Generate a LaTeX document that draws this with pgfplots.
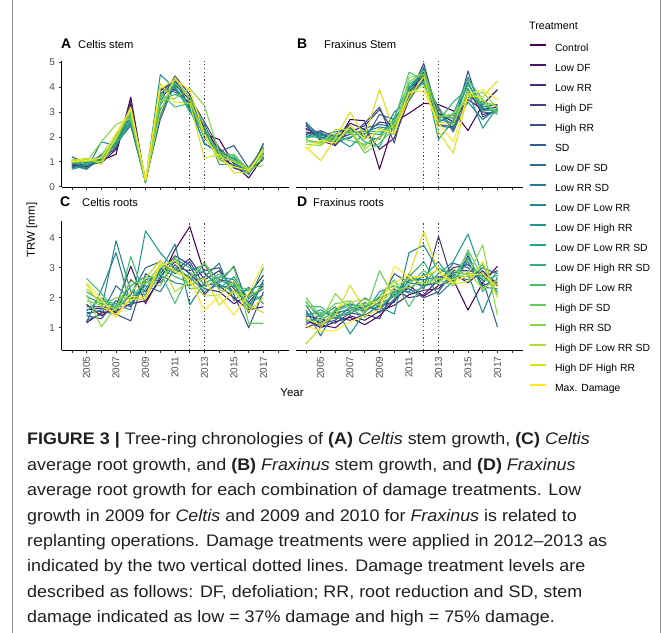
\documentclass[border=0pt]{standalone}
\usepackage{pgfplots}
\pgfplotsset{compat=1.18}
\usepackage{pgfplotstable}
\usepackage{fontspec}
\setmainfont{Liberation Sans}
\newfontfamily\capfont{Liberation Sans}[FakeStretch=1.07]

% viridis, 18 steps
\definecolor{v1}{HTML}{440154}\definecolor{v2}{HTML}{481769}\definecolor{v3}{HTML}{472A7A}
\definecolor{v4}{HTML}{433D84}\definecolor{v5}{HTML}{3D4E8A}\definecolor{v6}{HTML}{355E8D}
\definecolor{v7}{HTML}{2E6D8E}\definecolor{v8}{HTML}{297B8E}\definecolor{v9}{HTML}{23898E}
\definecolor{v10}{HTML}{1F978B}\definecolor{v11}{HTML}{21A585}\definecolor{v12}{HTML}{2EB37C}
\definecolor{v13}{HTML}{46C06F}\definecolor{v14}{HTML}{65CB5E}\definecolor{v15}{HTML}{89D548}
\definecolor{v16}{HTML}{B0DD2F}\definecolor{v17}{HTML}{D8E219}\definecolor{v18}{HTML}{FDE725}
\definecolor{tickgrey}{HTML}{4D4D4D}

% A: Celtis stem
\pgfplotstableread{
year c1 c2 c3 c4 c5 c6 c7 c8 c9 c10 c11 c12 c13 c14 c15 c16 c17 c18
2004 0.85 1.05 0.80 0.95 1.20 0.90 0.75 1.00 0.85 0.70 0.95 1.05 1.00 0.95 1.10 1.00 1.05 1.00
2005 0.80 0.90 0.95 0.70 0.95 0.85 0.90 0.75 0.70 0.85 0.95 1.00 0.90 1.05 1.00 1.10 1.15 1.05
2006 1.05 0.95 1.10 1.20 1.00 1.30 0.95 1.10 1.80 1.15 1.05 1.00 1.25 1.20 1.80 1.00 0.90 1.15
2007 1.30 1.50 1.55 1.70 1.85 1.60 1.75 1.90 1.65 1.80 2.00 1.70 2.10 1.85 2.50 2.00 1.95 2.15
2008 3.60 3.30 3.45 3.20 2.60 2.95 2.45 2.80 2.55 2.70 2.90 2.65 2.85 3.00 2.75 3.10 3.20 3.10
2009 0.15 0.20 0.18 0.22 0.25 0.20 0.17 0.23 0.19 0.21 0.24 0.18 0.20 0.22 0.26 0.20 0.30 0.25
2010 3.75 3.60 3.85 3.40 2.70 3.95 3.10 3.70 2.85 4.50 3.30 3.55 3.75 3.60 3.45 3.00 4.15 3.95
2011 3.90 4.10 4.30 4.45 4.20 3.80 4.00 4.35 4.25 3.95 4.05 3.70 3.20 4.15 3.55 4.40 3.40 4.30
2012 3.30 3.50 3.20 3.70 3.60 3.40 3.25 3.55 3.15 3.10 3.00 3.45 3.35 3.60 3.95 3.50 3.35 3.90
2013 2.10 2.40 2.50 2.30 2.60 1.95 1.70 2.20 2.05 1.75 2.35 2.00 2.15 2.45 3.25 2.00 1.15 2.10
2014 1.90 1.45 1.20 1.35 1.55 1.40 1.50 1.25 1.10 1.30 0.90 1.20 1.40 1.15 1.35 1.20 1.30 1.05
2015 0.90 0.75 0.85 1.05 1.00 1.65 0.95 1.15 0.80 1.10 0.90 1.20 1.25 1.30 1.05 1.00 0.55 0.80
2016 0.35 0.55 0.60 0.65 0.50 0.75 0.60 0.70 0.55 0.65 0.50 0.60 0.70 0.65 0.75 0.70 0.60 0.65
2017 1.20 1.35 1.10 1.55 1.75 1.60 1.45 1.25 1.70 1.35 1.50 1.15 1.30 1.40 0.85 1.25 1.55 1.45
}\tabA

% B: Fraxinus stem
\pgfplotstableread{
year c1 c2 c3 c4 c5 c6 c7 c8 c9 c10 c11 c12 c13 c14 c15 c16 c17 c18
2004 2.35 2.20 2.50 2.10 2.30 2.45 2.00 2.55 2.60 2.15 1.95 2.05 1.80 1.90 1.70 1.85 1.60 1.50
2005 2.00 2.10 1.85 2.25 2.15 1.95 2.20 2.05 1.90 2.00 2.10 1.95 1.80 1.75 1.65 1.70 1.05 1.85
2006 1.70 1.85 1.65 2.00 1.90 2.10 1.80 2.20 2.05 1.95 1.75 1.85 2.00 1.90 2.10 2.30 1.95 1.75
2007 2.70 2.55 2.30 2.20 2.10 2.45 1.95 2.35 2.20 1.60 2.40 2.00 1.85 2.25 2.15 2.30 3.00 2.45
2008 2.65 2.30 2.10 2.45 2.55 1.90 2.35 2.00 2.20 2.15 1.80 2.25 1.70 1.35 1.60 1.50 2.00 1.90
2009 0.70 1.50 2.60 3.10 3.20 2.90 2.50 1.90 2.40 2.10 1.60 2.20 2.00 1.75 2.35 1.95 3.90 2.30
2010 2.60 1.95 2.50 2.20 1.75 2.70 2.40 3.00 2.30 2.55 2.80 2.45 2.65 2.35 2.10 2.50 2.20 2.15
2011 2.95 3.50 3.80 3.65 4.00 3.60 3.90 3.45 3.70 3.85 4.10 3.95 4.60 4.20 4.40 3.75 3.55 3.80
2012 3.35 4.70 4.50 4.95 4.40 4.25 4.60 4.35 4.80 4.15 4.55 4.70 4.30 4.65 4.50 4.05 4.45 3.85
2013 3.30 2.95 3.10 2.80 2.50 3.20 2.70 2.45 2.60 2.90 1.90 2.65 2.85 3.05 2.75 2.60 2.20 2.55
2014 3.05 2.60 2.30 2.75 2.40 2.20 2.55 2.35 2.90 2.45 2.65 3.40 2.85 2.70 2.95 2.50 1.35 1.80
2015 2.25 3.50 3.90 3.70 4.65 3.60 4.20 3.40 4.40 3.80 4.10 3.95 4.30 3.75 3.55 3.85 3.65 3.70
2016 3.30 3.10 2.90 3.20 2.80 3.40 3.00 2.70 3.15 2.35 3.25 3.05 3.50 3.35 3.80 3.45 3.60 3.90
2017 3.90 3.20 3.05 3.30 3.10 3.25 2.95 3.15 3.00 3.20 3.05 3.10 2.90 3.00 3.15 3.20 4.25 3.50
}\tabB

% C: Celtis roots
\pgfplotstableread{
year c1 c2 c3 c4 c5 c6 c7 c8 c9 c10 c11 c12 c13 c14 c15 c16 c17 c18
2005 1.17 1.78 1.60 1.40 1.50 1.70 1.25 1.20 1.45 2.05 1.55 2.20 2.64 1.90 2.10 2.30 2.45 2.50
2006 1.50 1.40 1.65 1.30 1.55 1.70 1.45 2.25 1.60 1.80 2.00 1.90 2.15 1.75 1.03 1.85 1.70 1.95
2007 1.55 1.70 1.50 1.90 1.45 1.60 2.40 3.50 3.90 1.75 1.65 1.80 1.55 2.00 1.70 1.60 1.45 1.34
2008 1.80 3.05 2.60 1.70 1.23 2.10 1.95 1.75 2.20 1.60 2.40 1.85 3.37 2.00 2.55 2.20 1.95 2.05
2009 1.90 1.80 2.20 2.50 2.80 3.00 2.40 2.60 2.10 4.23 2.70 2.30 2.00 2.55 2.45 2.65 1.95 2.00
2010 2.60 2.70 2.95 2.80 2.50 3.20 2.20 2.75 2.90 3.50 2.65 3.00 2.85 2.40 3.10 3.25 3.05 3.20
2011 3.60 3.20 2.90 3.40 3.10 2.80 3.00 2.50 3.79 2.95 3.30 2.70 1.81 3.35 2.85 2.20 3.25 2.90
2012 4.37 2.80 3.30 3.10 2.60 3.20 2.90 2.40 1.76 2.70 3.00 2.50 2.85 2.30 2.65 2.55 2.45 2.60
2013 2.80 2.30 2.60 2.10 2.90 2.40 3.10 2.70 2.50 2.20 2.85 3.15 2.45 2.35 3.20 2.05 2.65 1.59
2014 2.40 2.20 2.90 2.60 3.00 2.50 2.35 3.15 2.70 2.45 2.30 2.55 2.80 2.65 2.25 2.10 1.75 2.05
2015 2.00 1.80 2.30 2.50 2.10 3.05 2.40 1.90 2.60 2.20 2.70 2.45 2.35 3.00 2.15 2.55 2.25 1.42
2016 1.60 2.10 1.85 1.50 1.00 1.70 2.00 2.35 1.80 2.25 1.95 1.65 2.30 1.15 2.05 1.75 1.55 2.15
2017 1.70 2.75 2.40 2.60 2.20 2.50 2.30 1.80 2.10 2.45 3.00 2.60 1.80 1.15 2.35 1.50 2.00 3.14
}\tabC

% D: Fraxinus roots
\pgfplotstableread{
year c1 c2 c3 c4 c5 c6 c7 c8 c9 c10 c11 c12 c13 c14 c15 c16 c17 c18
2004 1.30 1.20 1.00 1.40 1.10 1.50 1.75 1.60 1.35 1.85 1.45 1.25 1.70 2.00 1.90 0.46 1.30 1.05
2005 1.00 1.10 1.20 1.30 1.45 1.15 1.05 0.73 1.60 1.35 1.50 1.25 1.70 1.40 1.20 1.00 1.10 0.90
2006 1.20 1.00 1.35 1.15 1.50 1.25 1.40 1.60 1.30 1.70 1.45 1.55 1.35 1.80 2.14 1.65 1.40 0.90
2007 1.35 1.40 1.25 1.50 1.60 1.70 1.45 1.80 1.55 0.79 1.65 1.75 1.50 1.90 1.60 1.85 2.42 1.20
2008 1.10 1.25 1.45 1.40 1.70 1.55 1.85 1.60 2.00 1.50 1.35 1.75 1.65 1.45 1.80 1.95 1.60 1.40
2009 1.40 1.55 1.30 1.75 1.60 1.85 1.50 2.00 1.70 2.20 1.80 1.65 2.05 2.90 1.90 1.75 1.95 1.60
2010 1.90 1.75 2.30 1.85 2.10 2.80 1.95 2.20 1.46 2.40 2.05 2.15 2.60 2.00 2.25 2.35 2.50 3.05
2011 2.40 2.10 2.00 2.80 2.30 2.50 2.60 2.20 3.50 2.15 2.55 2.70 1.70 2.45 2.35 2.65 2.75 2.70
2012 2.05 2.25 2.10 2.30 2.00 2.40 2.60 2.80 3.75 2.35 2.70 3.20 2.50 2.90 2.55 2.45 4.20 2.70
2013 2.40 2.30 2.60 4.05 2.20 2.50 2.70 2.10 2.90 2.80 3.20 2.40 3.00 2.60 2.50 2.65 2.85 2.95
2014 2.60 2.80 3.00 2.45 2.90 3.15 2.70 2.55 2.85 3.20 2.50 2.65 2.75 2.40 2.95 2.60 2.45 2.50
2015 1.59 2.50 3.10 3.40 2.90 3.00 2.60 3.20 2.80 4.12 3.30 3.50 2.70 3.60 2.75 2.85 2.55 2.75
2016 2.50 2.90 2.70 2.40 2.80 2.60 3.00 2.35 1.50 2.75 2.55 2.20 3.10 2.65 3.76 2.30 3.20 2.80
2017 3.05 2.40 2.90 2.60 2.50 1.03 2.80 2.30 2.70 2.20 2.75 2.90 2.10 2.45 1.41 2.60 2.00 2.35
}\tabD

\tikzset{dotl/.style={line width=1.2bp, dash pattern=on 1.2bp off 2.6bp, black!75}}

\pgfplotsset{
  panel/.style={
    scale only axis, width=227bp,
    xmin=2003.3, xmax=2018.7,
    xtick={2004,...,2018},
    axis x line*=bottom,
    axis line style={line width=0.6bp, black},
    tick align=outside, major tick length=3bp,
    tick style={line width=0.6bp, black!80},
    tick label style={font=\fontsize{10}{11}\selectfont, text=tickgrey},
    every axis plot/.append style={line width=1.05bp, line join=round, no markers},
    clip=false,
  },
  toprow/.style={height=126bp, ymin=-0.012, ymax=5.05, xticklabels={}},
  botrow/.style={height=128.5bp, ymin=0.26, ymax=4.54,
    xticklabels={,2005,,2007,,2009,,2011,,2013,,2015,,2017,},
    xticklabel style={rotate=90, anchor=east}},
  withy/.style={axis y line*=left},
  noy/.style={axis y line=none},
}

\begin{document}
\begin{tikzpicture}[x=1bp, y=1bp]
\useasboundingbox (0,0) rectangle (663,633);

% A
\begin{axis}[panel, toprow, withy, at={(61.5bp,446bp)}, anchor=south west,
  ytick={0,...,5}, yticklabels={0,1,2,3,4,5}]
  \pgfplotsinvokeforeach{1,...,18}{\addplot[color=v#1] table[x=year, y=c#1]{\tabA};}
  \draw[dotl] (2012,-0.012) -- (2012,5.05);
  \draw[dotl] (2013,-0.012) -- (2013,5.05);
\end{axis}

% B (carries the legend)
\begin{axis}[panel, toprow, noy, at={(295.5bp,446bp)}, anchor=south west,
  legend style={at={(1.0286,1.13492)}, anchor=north west, draw=none, fill=none,
    inner sep=0pt, outer sep=0pt, row sep=10bp, column sep=8bp,
    font=\fontsize{10.4}{12}\selectfont,
    nodes={inner sep=0pt, outer sep=0pt, text height=8bp, text depth=2bp}},
  legend cell align=left,
  legend image code/.code={\draw[#1, line width=2bp] (0bp,4bp) -- (16bp,4bp);}]
  \pgfplotsinvokeforeach{1,...,18}{\addplot[color=v#1] table[x=year, y=c#1]{\tabB};}
  \draw[dotl] (2012,-0.012) -- (2012,5.05);
  \draw[dotl] (2013,-0.012) -- (2013,5.05);
  \legend{Control,Low DF,Low RR,High DF,High RR,SD,Low DF SD,Low RR SD,Low DF Low RR,Low DF High RR,Low DF Low RR SD,Low DF High RR SD,High DF Low RR,High DF SD,High RR SD,High DF Low RR SD,High DF High RR,Max. Damage}
\end{axis}

% C
\begin{axis}[panel, botrow, withy, at={(61.5bp,283bp)}, anchor=south west,
  ytick={1,...,4}, yticklabels={1,2,3,4}]
  \pgfplotsinvokeforeach{1,...,18}{\addplot[color=v#1] table[x=year, y=c#1]{\tabC};}
  \draw[dotl] (2012,0.26) -- (2012,4.54);
  \draw[dotl] (2013,0.26) -- (2013,4.54);
\end{axis}

% D
\begin{axis}[panel, botrow, noy, at={(295.5bp,283bp)}, anchor=south west]
  \pgfplotsinvokeforeach{1,...,18}{\addplot[color=v#1] table[x=year, y=c#1]{\tabD};}
  \draw[dotl] (2012,0.26) -- (2012,4.54);
  \draw[dotl] (2013,0.26) -- (2013,4.54);
\end{axis}

% panel titles and axis titles
\begin{scope}[every node/.style={inner sep=0pt, anchor=base west}]
\node[font=\fontsize{14}{14}\selectfont\bfseries] at (61,584.5) {A};
\node[font=\fontsize{11.2}{12}\selectfont] at (78,584.5) {Celtis stem};
\node[font=\fontsize{14}{14}\selectfont\bfseries] at (297,584.5) {B};
\node[font=\fontsize{11.2}{12}\selectfont] at (324,584.5) {Fraxinus Stem};
\node[font=\fontsize{14}{14}\selectfont\bfseries] at (60,426) {C};
\node[font=\fontsize{11.2}{12}\selectfont] at (82,426) {Celtis roots};
\node[font=\fontsize{14}{14}\selectfont\bfseries] at (297,426) {D};
\node[font=\fontsize{11.2}{12}\selectfont] at (313,426) {Fraxinus roots};
\node[font=\fontsize{10.8}{12}\selectfont] at (529,603.5) {Treatment};
\end{scope}
\node[rotate=90, inner sep=0pt, font=\fontsize{11.5}{12}\selectfont] at (32,403) {TRW [mm]};
\node[inner sep=0pt, font=\fontsize{11.5}{12}\selectfont] at (292,240) {Year};

% frame
\draw[black!45, line width=0.8bp] (12,0) -- (12,633);
\draw[black!45, line width=0.8bp] (660.5,0) -- (660.5,633);

% caption
\begin{scope}[every node/.style={inner sep=0pt, anchor=base west, text=black!88,
    font=\capfont\fontsize{16.8}{18}\selectfont}]
\node at (27,188.0) {\textbf{FIGURE 3 |} Tree-ring chronologies of \textbf{(A)} \textit{Celtis} stem growth, \textbf{(C)} \textit{Celtis}};
\node at (27,162.6) {average root growth, and \textbf{(B)} \textit{Fraxinus} stem growth, and \textbf{(D)} \textit{Fraxinus}};
\node at (27,137.2) {average root growth for each combination of damage treatments. Low};
\node at (27,111.8) {growth in 2009 for \textit{Celtis} and 2009 and 2010 for \textit{Fraxinus} is related to};
\node at (27,86.4) {replanting operations. Damage treatments were applied in 2012–2013 as};
\node at (27,61.0) {indicated by the two vertical dotted lines. Damage treatment levels are};
\node at (27,35.6) {described as follows: DF, defoliation; RR, root reduction and SD, stem};
\node at (27,10.2) {damage indicated as low = 37\% damage and high = 75\% damage.};
\end{scope}
\end{tikzpicture}
\end{document}
